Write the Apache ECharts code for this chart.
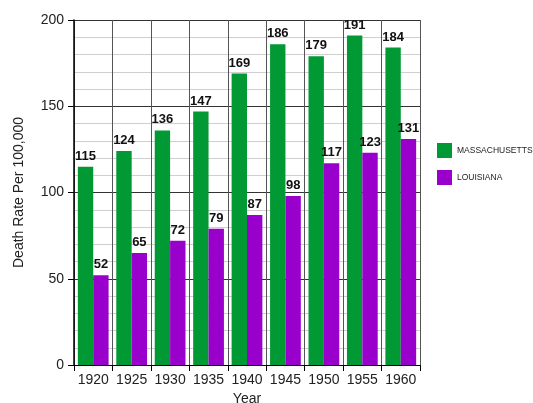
<!DOCTYPE html>
<html>
<head>
<meta charset="utf-8">
<script src="https://cdn.jsdelivr.net/npm/echarts@6/dist/echarts.min.js"></script>
<style>
  html, body { margin: 0; padding: 0; background: #fff; }
  #main { width: 533px; height: 403px; }
</style>
</head>
<body>
<div id="main"></div>
<script>
var years = ['1920', '1925', '1930', '1935', '1940', '1945', '1950', '1955', '1960'];
var massachusetts = [115, 124, 136, 147, 169, 186, 179, 191, 184];
var louisiana = [52, 65, 72, 79, 87, 98, 117, 123, 131];

var myChart = echarts.init(document.getElementById('main'));

var barLabel = {
    show: true,
    position: 'top',
    distance: 4,
    color: '#111',
    fontWeight: 'bold',
    fontSize: 13,
    fontFamily: 'Liberation Sans, Arial, sans-serif'
};

var option = {
    animation: false,
    textStyle: { fontFamily: 'Liberation Sans, Arial, sans-serif' },
    grid: { left: 74, right: 113, top: 20, bottom: 38, outerBoundsMode: 'none', containLabel: false },
    legend: {
        orient: 'vertical',
        left: 437,
        top: 143,
        padding: 0,
        itemWidth: 15,
        itemHeight: 15,
        itemGap: 12,
        icon: 'rect',
        textStyle: { fontSize: 8.5, color: '#222' },
        data: ['MASSACHUSETTS', 'LOUISIANA']
    },
    xAxis: {
        type: 'category',
        data: years,
        name: 'Year',
        nameLocation: 'middle',
        nameGap: 24,
        nameTextStyle: { fontSize: 14, color: '#222' },
        axisLine: { lineStyle: { color: '#000', width: 1 } },
        axisTick: { show: true, interval: 0, length: 6, lineStyle: { color: '#000' } },
        axisLabel: { interval: 0, fontSize: 14, color: '#222', margin: 8 },
        splitLine: { show: true, interval: 0, lineStyle: { color: '#555', width: 1 } }
    },
    yAxis: {
        type: 'value',
        min: 0,
        max: 200,
        interval: 50,
        name: 'Death Rate Per 100,000',
        nameLocation: 'middle',
        nameGap: 48,
        nameTextStyle: { fontSize: 14, color: '#222' },
        axisLine: { show: true, lineStyle: { color: '#000', width: 1.5 } },
        axisTick: { show: true, length: 6, lineStyle: { color: '#000' } },
        axisLabel: { fontSize: 14, color: '#222', margin: 10 },
        splitLine: { show: true, lineStyle: { color: '#333', width: 1 } },
        minorTick: { show: false, splitNumber: 5 },
        minorSplitLine: { show: true, lineStyle: { color: '#cfcfcf', width: 1 } }
    },
    series: [
        {
            name: 'MASSACHUSETTS',
            type: 'bar',
            data: massachusetts,
            barGap: '0%',
            barCategoryGap: '20%',
            itemStyle: { color: '#009933' },
            label: barLabel
        },
        {
            name: 'LOUISIANA',
            type: 'bar',
            data: louisiana,
            itemStyle: { color: '#9900CC' },
            label: barLabel
        }
    ]
};

myChart.setOption(option);
</script>
</body>
</html>
